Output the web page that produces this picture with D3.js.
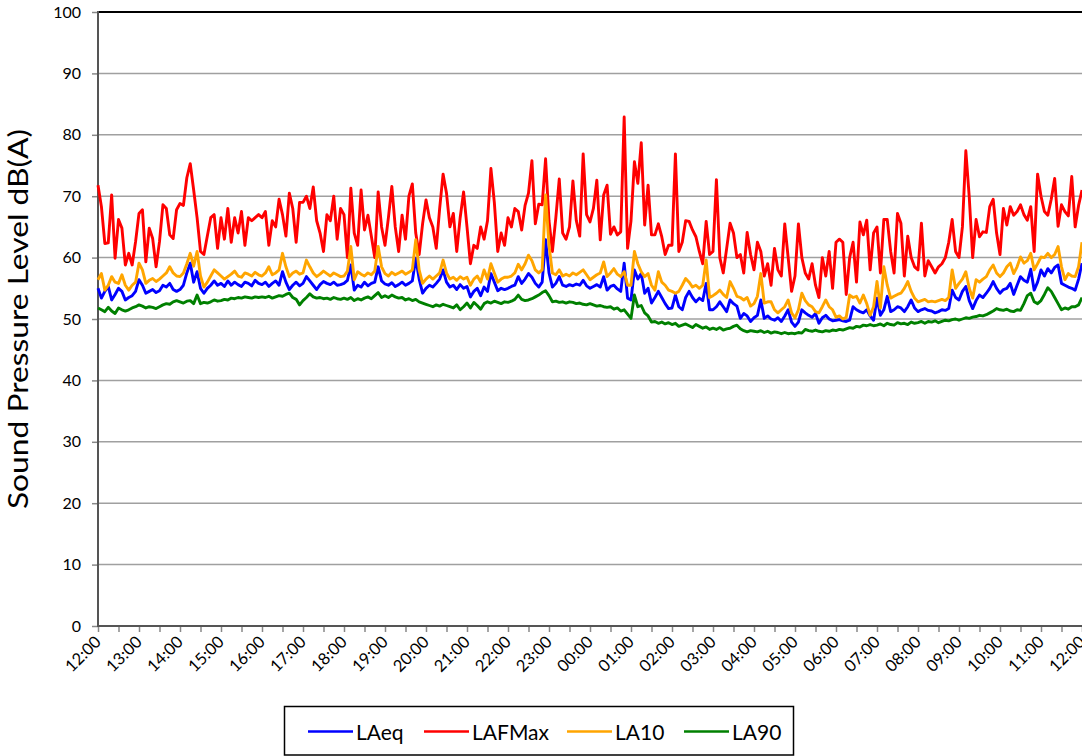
<!DOCTYPE html>
<html><head><meta charset="utf-8">
<script src="https://cdn.jsdelivr.net/npm/d3@7"></script>
<style>
html,body{margin:0;padding:0;background:#fff;}
svg{display:block;font-family:Lato,"Open Sans",sans-serif;}
</style></head>
<body><svg id="c" width="1082" height="756"></svg>
<script>
const hourLabels = ["12:00","13:00","14:00","15:00","16:00","17:00","18:00","19:00","20:00","21:00","22:00","23:00","00:00","01:00","02:00","03:00","04:00","05:00","06:00","07:00","08:00","09:00","10:00","11:00","12:00"];
const yTicks = [0,10,20,30,40,50,60,70,80,90,100];
const seriesNames = ["LAeq","LAFMax","LA10","LA90"];
const seriesColors = ["#0000ff","#ff0000","#ffa500","#008000"];

const LAeq = [
55.0,53.4,54.5,55.3,53.1,54.0,55.0,54.5,53.1,53.5,53.8,54.5,
56.4,55.5,54.2,54.5,54.8,54.3,54.6,55.5,55.2,55.8,54.8,54.5,
54.8,55.5,57.5,59.1,56.0,57.7,55.0,54.2,55.0,55.5,56.2,55.5,
55.8,55.3,56.2,55.5,56.0,55.6,55.3,56.0,55.8,55.4,56.3,55.8,
55.6,56.0,55.3,55.8,56.2,55.5,57.7,56.0,54.8,55.5,56.0,55.4,
55.8,56.9,56.2,55.5,54.8,55.6,56.1,55.8,55.6,56.0,55.5,55.6,
55.8,56.3,58.8,54.7,55.5,55.2,56.0,55.4,55.8,56.0,58.5,56.2,
55.7,55.5,55.9,55.3,55.6,56.0,55.5,55.8,56.2,59.9,56.5,54.2,
55.0,55.5,55.2,55.8,56.5,58.0,56.0,55.2,55.5,54.8,55.6,55.0,
55.3,53.6,54.5,55.0,53.8,55.2,54.5,57.4,56.0,54.6,55.0,54.8,
55.0,55.3,55.5,56.9,55.8,56.5,57.4,56.8,55.8,55.2,56.0,62.9,
57.5,55.2,55.8,56.9,55.5,55.3,55.6,55.4,55.7,55.5,56.3,55.4,
55.0,55.3,55.6,55.2,56.9,54.7,55.3,55.5,54.9,54.5,59.1,53.4,
53.1,58.0,56.5,57.4,54.2,55.0,52.6,53.5,54.5,53.5,52.5,51.7,
51.8,53.9,52.0,51.5,53.5,54.5,53.5,52.8,53.4,53.0,55.8,51.5,
51.5,52.0,52.8,52.0,51.2,53.1,52.5,52.1,50.1,50.9,50.5,49.6,
50.2,50.6,53.1,50.1,50.5,50.0,49.8,50.2,49.6,50.5,51.5,49.5,
48.8,49.5,51.5,51.0,50.6,50.3,50.9,49.3,50.2,50.6,50.0,49.7,
49.8,49.9,49.7,49.6,49.8,52.0,51.5,51.2,51.0,51.5,50.5,49.8,
53.4,50.6,51.5,53.7,51.2,51.5,52.0,51.8,51.2,52.0,53.1,51.8,
51.2,51.5,51.7,51.4,51.3,51.0,51.2,51.5,51.4,51.7,54.7,53.5,
53.1,54.5,55.3,53.0,51.7,53.0,53.9,53.5,54.2,55.0,56.1,55.0,
54.2,54.8,55.0,55.8,54.0,55.5,56.9,56.3,56.0,58.1,54.7,56.0,
58.0,57.0,58.2,57.5,58.4,58.8,55.8,55.5,55.2,55.0,54.7,56.5,
59.1];

const LAFMax = [
71.8,68.3,62.3,62.4,70.2,59.9,66.2,64.8,58.8,60.7,58.8,62.6,
67.2,67.8,59.3,64.8,63.1,58.5,62.6,68.6,68.0,63.7,63.1,67.8,
68.8,68.5,73.0,75.3,71.0,66.5,61.0,60.5,63.5,66.5,67.0,61.5,
66.5,63.0,68.0,62.5,66.5,64.0,67.5,62.0,66.5,66.0,66.5,67.0,
66.5,67.5,62.0,66.0,65.0,69.5,67.0,63.5,70.5,68.0,62.5,69.0,
69.0,70.0,68.0,71.5,66.0,64.0,61.0,67.0,66.0,70.0,63.0,68.0,
67.0,60.0,71.3,64.0,62.0,71.0,64.5,66.9,63.5,60.0,70.7,65.0,
62.0,66.5,71.6,65.0,61.0,66.9,63.0,70.0,72.0,64.0,60.5,65.5,
69.4,66.5,65.0,61.5,68.0,73.6,70.5,65.0,67.2,61.0,66.5,70.7,
65.0,59.0,62.0,61.5,65.0,63.0,66.0,74.5,69.0,61.0,64.0,62.0,
66.5,65.0,68.0,67.5,64.5,68.5,70.5,75.8,65.5,68.7,68.6,76.1,
66.0,61.0,66.5,72.8,64.0,63.0,65.0,72.5,66.0,63.5,76.9,67.0,
65.8,68.0,72.6,62.9,70.2,71.8,63.8,65.0,63.7,64.2,82.9,61.5,
66.0,75.6,72.1,78.7,65.3,71.8,63.7,63.7,65.5,63.4,60.5,62.0,
62.0,76.9,61.0,62.5,66.0,65.9,64.5,63.4,61.0,59.0,65.9,60.5,
61.0,72.7,60.0,57.5,61.5,65.6,64.0,60.0,60.5,57.5,64.1,60.5,
58.0,62.5,61.0,57.0,59.0,55.5,61.5,58.0,57.0,65.5,60.0,54.5,
57.0,65.5,60.0,57.5,56.5,59.0,55.5,53.5,60.0,57.0,61.0,55.0,
62.5,63.0,62.5,54.0,60.0,62.5,56.0,65.8,63.7,66.1,58.0,64.0,
65.0,57.5,66.2,66.2,61.0,57.5,67.2,65.6,57.0,63.5,60.0,58.5,
58.0,65.6,57.0,59.5,58.5,57.5,58.5,59.0,60.0,62.5,66.2,61.0,
60.0,65.0,77.4,69.9,60.0,66.2,63.4,64.2,64.1,68.3,69.5,64.0,
60.5,68.0,65.3,68.3,66.9,67.5,68.6,67.0,66.1,68.3,61.0,73.6,
70.0,67.5,66.9,69.5,72.9,65.1,68.6,67.5,66.8,73.2,65.0,68.5,
71.0];

const LA10 = [
56.4,57.4,54.7,55.5,56.9,56.0,55.8,57.2,55.5,54.7,55.5,56.0,
59.1,58.0,55.8,56.3,56.6,56.1,56.5,57.0,57.5,58.5,57.5,57.0,
56.9,57.5,59.0,60.7,58.6,61.0,57.0,55.2,56.0,57.0,58.0,57.5,
57.0,56.5,56.9,57.3,57.8,57.0,56.8,57.5,57.3,57.0,57.6,57.2,
57.0,57.5,58.5,57.2,57.5,58.0,60.7,58.5,56.9,57.5,57.8,57.3,
57.5,59.6,58.5,57.5,56.9,57.3,57.8,57.4,57.0,57.5,57.2,56.9,
57.0,57.8,61.8,56.4,57.7,57.3,57.0,57.5,57.2,57.8,61.8,58.5,
57.4,57.0,57.6,57.2,57.5,57.8,57.3,57.6,58.0,62.9,58.0,55.8,
56.5,57.0,56.5,57.0,57.5,59.6,57.5,56.5,56.8,56.3,56.9,56.5,
56.8,55.5,56.5,57.0,56.0,58.0,56.5,59.0,57.5,56.0,56.5,56.8,
56.8,57.0,57.5,58.9,58.0,59.0,60.4,59.5,58.0,57.5,58.0,70.2,
62.0,57.5,57.2,58.0,57.0,57.3,57.0,57.5,57.2,57.6,58.0,57.2,
56.4,56.8,57.2,57.5,59.3,56.9,57.5,58.2,57.3,56.9,57.7,55.5,
55.5,61.0,59.0,57.7,56.9,57.4,55.5,54.7,57.7,56.0,55.5,54.7,
54.5,54.2,54.5,55.5,56.6,56.0,55.2,55.5,55.0,55.5,59.6,53.5,
53.8,54.2,54.7,54.0,53.5,56.1,55.0,53.7,53.5,53.1,53.5,52.1,
52.5,53.7,57.4,52.6,52.8,52.8,51.5,51.0,51.5,52.0,53.1,51.0,
50.2,51.5,54.2,53.0,52.3,52.0,51.2,51.0,52.0,53.1,52.0,51.5,
50.3,50.5,50.0,50.3,53.9,53.5,53.7,52.6,53.9,52.5,50.6,52.0,
56.1,51.8,58.5,55.5,53.4,53.7,54.0,54.2,55.0,56.1,54.5,53.4,
52.8,53.0,53.2,52.8,52.9,52.8,53.0,53.2,53.0,53.5,58.0,55.0,
55.8,56.5,57.7,55.0,53.4,56.4,56.0,56.5,56.9,58.0,58.8,57.5,
56.9,57.5,58.5,59.1,57.4,58.5,60.1,59.1,59.5,60.7,58.0,59.0,
60.1,60.0,60.7,60.0,60.5,61.8,58.5,56.4,57.4,57.0,56.9,58.5,
62.5];

const LA90 = [
51.8,51.5,51.2,51.9,51.3,50.9,51.8,51.5,51.3,51.5,51.8,52.0,
52.3,52.1,51.8,52.0,51.9,51.7,52.0,52.3,52.5,52.4,52.8,53.0,
52.8,52.6,52.9,53.0,52.5,53.9,52.5,52.7,52.6,52.8,53.1,52.9,
53.0,53.2,53.1,53.4,53.3,53.5,53.4,53.6,53.5,53.4,53.6,53.5,
53.6,53.5,53.7,53.4,53.6,53.8,53.7,54.0,54.2,53.5,53.2,52.3,
53.0,53.5,54.1,53.6,53.4,53.5,53.3,53.4,53.2,53.5,53.3,53.2,
53.4,53.2,53.5,53.0,53.3,53.1,53.4,53.6,53.3,53.8,54.3,53.5,
53.8,53.5,53.9,53.6,53.4,53.5,53.1,53.3,53.0,53.2,52.8,52.6,
52.4,52.2,52.0,52.3,52.1,52.4,52.2,52.0,51.8,52.3,51.5,52.0,
52.6,51.8,52.7,52.2,51.6,52.5,52.8,52.6,52.9,52.7,52.5,52.8,
52.7,52.9,53.2,53.9,53.2,53.0,53.1,53.3,53.6,53.9,54.3,54.6,
53.8,52.8,52.9,52.7,52.8,52.6,52.8,52.7,52.5,52.6,52.4,52.3,
52.5,52.3,52.1,52.2,52.0,51.9,52.0,51.6,51.8,51.3,51.5,50.8,
50.1,53.9,52.0,52.2,51.0,50.5,49.5,49.6,49.3,49.5,49.2,49.4,
49.1,49.3,48.8,49.0,49.2,48.9,48.6,49.1,48.8,48.5,48.7,48.3,
48.5,48.3,48.6,48.2,48.4,48.5,48.8,49.0,48.4,48.1,47.9,48.1,
48.0,47.9,48.1,47.8,48.0,47.7,47.9,47.8,47.6,47.8,47.6,47.7,
47.6,47.8,47.7,48.3,48.1,48.0,48.2,48.0,47.9,48.1,48.0,48.2,
48.1,48.3,48.2,48.4,48.6,48.5,48.8,48.7,49.0,48.9,49.1,48.9,
49.0,49.2,48.9,49.3,49.1,49.0,49.4,49.2,49.3,49.1,49.5,49.3,
49.4,49.6,49.3,49.6,49.5,49.7,49.4,49.6,49.8,49.7,49.9,50.0,
49.8,50.0,50.2,50.1,50.3,50.4,50.6,50.5,50.7,51.0,51.3,51.7,
51.5,51.4,51.6,51.3,51.2,51.5,51.4,52.5,53.8,54.2,52.8,52.5,
53.0,54.0,55.1,54.5,53.5,52.5,51.5,51.8,51.6,52.0,52.0,52.3,
53.5];

const seriesData = [LAeq, LAFMax, LA10, LA90];

const svg = d3.select("#c");
const L = 98, R = 1082, T = 12, B = 626;
const nSteps = LAeq.length - 1; // 5-minute steps
const x = d3.scaleLinear().domain([0, nSteps]).range([L, R]);
const y = d3.scaleLinear().domain([0, 100]).range([B, T]);

// gridlines
svg.append("g").selectAll("line").data(yTicks.filter(v => v > 0 && v < 100)).join("line")
  .attr("x1", L).attr("x2", R).attr("y1", d => y(d)).attr("y2", d => y(d))
  .attr("stroke", "#a0a0a0").attr("stroke-width", 1.5);

// y axis
const yAxis = d3.axisLeft(y).tickValues(yTicks).tickSize(6).tickPadding(11).tickFormat(d3.format("d"));
const gy = svg.append("g").attr("transform", `translate(${L},0)`).call(yAxis);
gy.select(".domain").remove();
gy.selectAll(".tick line").attr("stroke", "#888").attr("stroke-width", 1.5);
gy.selectAll(".tick text").attr("font-size", 16).attr("fill", "#000").attr("font-family", "Lato, sans-serif");

// x axis ticks (every 30 min)
const xTickVals = d3.range(0, nSteps + 1, 6);
const xAxis = d3.axisBottom(x).tickValues(xTickVals).tickSize(6).tickFormat("");
const gx = svg.append("g").attr("transform", `translate(0,${B})`).call(xAxis);
gx.select(".domain").remove();
gx.selectAll(".tick line").attr("stroke", "#888").attr("stroke-width", 1.5);

// x labels (hourly)
svg.append("g").selectAll("text").data(hourLabels).join("text")
  .attr("transform", (d, i) => `translate(${x(i * 12) + 4},${B + 17}) rotate(-45)`)
  .attr("text-anchor", "end").attr("font-size", 16.5).attr("fill", "#000")
  .text(d => d);

// frame lines
svg.append("line").attr("x1", L).attr("x2", R + 2).attr("y1", T).attr("y2", T).attr("stroke", "#000").attr("stroke-width", 2);
svg.append("line").attr("x1", L).attr("x2", L).attr("y1", T - 1).attr("y2", B + 1).attr("stroke", "#555").attr("stroke-width", 2);
svg.append("line").attr("x1", L).attr("x2", R + 2).attr("y1", B).attr("y2", B).attr("stroke", "#555").attr("stroke-width", 2);

// series lines
const line = d3.line().x((d, i) => x(i)).y(d => y(d));
seriesData.forEach((s, k) => {
  svg.append("path").datum(s).attr("d", line).attr("fill", "none")
    .attr("stroke", seriesColors[k]).attr("stroke-width", 2.9).attr("stroke-linejoin", "round");
});

// y title
svg.append("text").attr("transform", `translate(28,${(T + B) / 2}) rotate(-90)`)
  .attr("text-anchor", "middle").attr("font-size", 26).attr("fill", "#000")
  .attr("textLength", 380).attr("lengthAdjust", "spacingAndGlyphs")
  .text("Sound Pressure Level dB(A)");

// legend
const lg = svg.append("g");
lg.append("rect").attr("x", 284.5).attr("y", 706.5).attr("width", 509).attr("height", 48.5)
  .attr("fill", "#fff").attr("stroke", "#000").attr("stroke-width", 1.5);
const legX = [308, 424, 567, 684];
seriesNames.forEach((n, k) => {
  lg.append("line").attr("x1", legX[k]).attr("x2", legX[k] + 45).attr("y1", 731.5).attr("y2", 731.5)
    .attr("stroke", seriesColors[k]).attr("stroke-width", 2.6);
  lg.append("text").attr("x", legX[k] + 48).attr("y", 739.5).attr("font-size", 21).attr("fill", "#000").text(n);
});
</script></body></html>
